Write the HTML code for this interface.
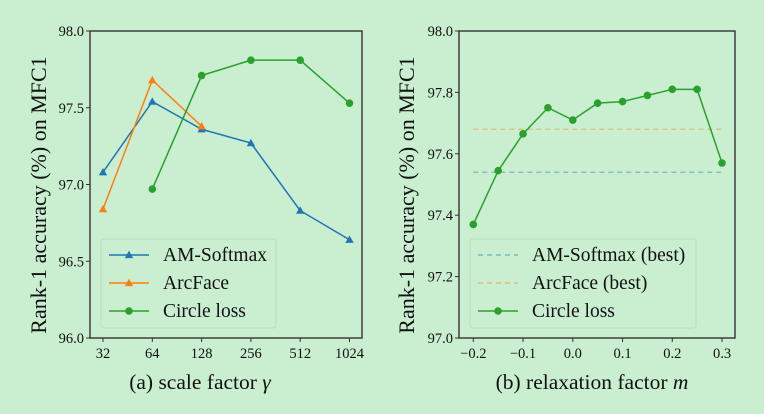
<!DOCTYPE html>
<html><head><meta charset="utf-8">
<style>
html,body{margin:0;padding:0;background:#c9eed0;}
svg{display:block;font-family:"Liberation Serif",serif;}
</style></head>
<body>
<svg id="chart" width="764" height="414" viewBox="0 0 764 414" xmlns="http://www.w3.org/2000/svg">
<rect width="764" height="414" fill="#c9eed0"/>
</svg>
<script>
// Panel (a) data
const aCats = ["32","64","128","256","512","1024"];
const amSoftmaxA = [97.08, 97.54, 97.36, 97.27, 96.83, 96.64];
const arcFaceA = [96.84, 97.68, 97.38, null, null, null];
const circleA = [null, 96.97, 97.71, 97.81, 97.81, 97.53];
const aYTicks = [96.0, 96.5, 97.0, 97.5, 98.0];
// Panel (b) data
const bX = [-0.2, -0.15, -0.1, -0.05, 0.0, 0.05, 0.1, 0.15, 0.2, 0.25, 0.3];
const circleB = [97.37, 97.545, 97.665, 97.75, 97.71, 97.765, 97.77, 97.79, 97.81, 97.81, 97.57];
const amBest = [97.54];
const arcBest = [97.68];
const bXTicks = [-0.2, -0.1, 0.0, 0.1, 0.2, 0.3];
const bYTicks = [97.0, 97.2, 97.4, 97.6, 97.8, 98.0];

const NS = "http://www.w3.org/2000/svg";
const svg = document.getElementById('chart');
function mk(tag, attrs, parent){
  const e = document.createElementNS(NS, tag);
  for (const k in attrs) e.setAttribute(k, attrs[k]);
  (parent||svg).appendChild(e);
  return e;
}
const BLUE="#1f77b4", ORANGE="#ff7f0e", GREEN="#2ca02c";

function marker(g, type, x, y, color){
  if (type==='tri'){
    const s=4.2;
    const p = mk('polygon',{points:`${x},${y-s} ${x-s},${y+s*0.75} ${x+s},${y+s*0.75}`,fill:color},g);
    
    
  } else {
    const c = mk('circle',{cx:x,cy:y,r:3.8,fill:color},g);
    
    
  }
}

function series(name, xs, ys, xf, yf, color, mtype){
  const g = mk('g',{});
  
  
  const pts=[];
  for (let i=0;i<ys.length;i++){ if (ys[i]==null) continue; pts.push([xf(xs[i]), yf(ys[i])]); }
  mk('polyline',{points:pts.map(p=>p.join(',')).join(' '),fill:'none',stroke:color,'stroke-width':1.5}, g);
  if (mtype) pts.forEach(p=>marker(g,mtype,p[0],p[1],color));
  return g;
}

function frame(L,T,R,B,name){
  const r = mk('rect',{x:L,y:T,width:R-L,height:B-T,fill:'none',stroke:'#333','stroke-width':1.4});
  
  
}
function text(x,y,s,size,anchor,name,extra){
  const t = mk('text',Object.assign({x:x,y:y,'font-size':size,'text-anchor':anchor||'middle',fill:'#111'},extra||{}));
  t.textContent = s;
  
  
  return t;
}
function yTicks(L, ticks, yf, fmt, name){
  const g = mk('g',{});
  
  
  ticks.forEach(v=>{
    const y=yf(v);
    mk('line',{x1:L-4,x2:L,y1:y,y2:y,stroke:'#333','stroke-width':1},g);
    const t=mk('text',{x:L-6,y:y+5,'font-size':14.5,'text-anchor':'end',fill:'#111'},g);
    t.textContent=fmt(v);
  });
}
function xTicks(B, ticks, xf, labels, name){
  const g = mk('g',{});
  
  
  ticks.forEach((v,i)=>{
    const x=xf(v);
    mk('line',{x1:x,x2:x,y1:B,y2:B+4,stroke:'#333','stroke-width':1},g);
    const t=mk('text',{x:x,y:B+20,'font-size':14.5,'text-anchor':'middle',fill:'#111'},g);
    t.textContent=labels[i];
  });
}
function legend(x,y,w,h,items,name){
  const g = mk('g',{});
  
  
  mk('rect',{x:x,y:y,width:w,height:h,rx:3,fill:'#c9eed0',stroke:'#b9dcc0','stroke-width':1},g);
  items.forEach((it,i)=>{
    const cy=y+16+i*28;
    const e = mk('g',{},g);
    
    
    mk('line',{x1:x+8,x2:x+48,y1:cy,y2:cy,stroke:it.color,'stroke-width':1.5,'stroke-dasharray':it.dash||'none',opacity:it.op||1},e);
    if (it.m) marker(e,it.m,x+28,cy,it.color);
    const t=mk('text',{x:x+62,y:cy+6,'font-size':19.5,fill:'#111'},e);
    t.textContent=it.label;
  });
}

// ---- Panel (a)
(function(){
  const L=90,R=362,T=31,B=338;
  const x0=103, dx=49.3;
  const xf = i=>x0+i*dx;
  const yf = v=>B-(v-96)/(98-96)*(B-T);
  const idx = aCats.map((_,i)=>i);
  series('am-softmax-line-a', idx, amSoftmaxA, xf, yf, BLUE, 'tri');
  series('arcface-line-a', idx, arcFaceA, xf, yf, ORANGE, 'tri');
  series('circle-loss-line-a', idx, circleA, xf, yf, GREEN, 'dot');
  frame(L,T,R,B,'plot-area-a');
  yTicks(L, aYTicks, yf, v=>v.toFixed(1), 'y-axis-ticks-a');
  xTicks(B, idx, xf, aCats, 'x-axis-ticks-a');
  legend(101,239,175,89,[
    {label:'AM-Softmax',color:BLUE,m:'tri'},
    {label:'ArcFace',color:ORANGE,m:'tri'},
    {label:'Circle loss',color:GREEN,m:'dot'}],'legend-a');
  text(46,195,'Rank-1 accuracy (%) on MFC1',22,'middle','y-axis-title-a',{transform:'rotate(-90 46 195)'});
  const t=text(200,389,'(a) scale factor ',21.5,'middle','x-axis-title-a');
  const ts=mk('tspan',{'font-style':'italic'},t); ts.textContent='γ';
})();

// ---- Panel (b)
(function(){
  const L=459,R=735,T=31,B=338;
  const xf = v=>473.3+(v+0.2)/0.5*(722-473.3);
  const yf = v=>B-(v-97)/(98-97)*(B-T);
  const amL = mk('line',{x1:xf(-0.2),x2:xf(0.3),y1:yf(amBest[0]),y2:yf(amBest[0]),stroke:BLUE,'stroke-width':1.3,'stroke-dasharray':'5,4',opacity:0.45});
  
  
  const arL = mk('line',{x1:xf(-0.2),x2:xf(0.3),y1:yf(arcBest[0]),y2:yf(arcBest[0]),stroke:ORANGE,'stroke-width':1.3,'stroke-dasharray':'5,4',opacity:0.45});
  
  
  series('circle-loss-line-b', bX, circleB, xf, yf, GREEN, 'dot');
  frame(L,T,R,B,'plot-area-b');
  yTicks(L, bYTicks, yf, v=>v.toFixed(1), 'y-axis-ticks-b');
  xTicks(B, bXTicks, xf, bXTicks.map(v=>(v<0?'\u2212':'')+Math.abs(v).toFixed(1)), 'x-axis-ticks-b');
  legend(470,239,226,89,[
    {label:'AM-Softmax (best)',color:BLUE,dash:'5,4',op:0.45},
    {label:'ArcFace (best)',color:ORANGE,dash:'5,4',op:0.45},
    {label:'Circle loss',color:GREEN,m:'dot'}],'legend-b');
  text(414,195,'Rank-1 accuracy (%) on MFC1',22,'middle','y-axis-title-b',{transform:'rotate(-90 414 195)'});
  const t=text(592,389,'(b) relaxation factor ',21.5,'middle','x-axis-title-b');
  const ts=mk('tspan',{'font-style':'italic'},t); ts.textContent='m';
})();
</script>
</body></html>
